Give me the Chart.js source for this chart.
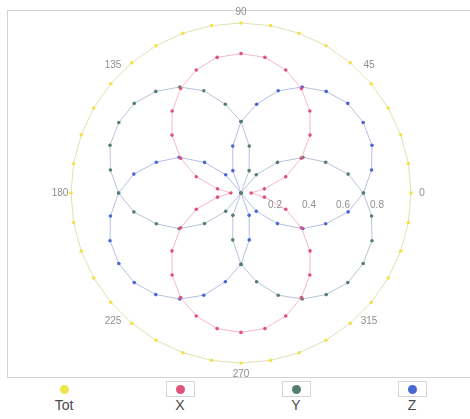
<!DOCTYPE html>
<html>
<head>
<meta charset="utf-8">
<title>Polar response</title>
<script src="https://cdn.jsdelivr.net/npm/chart.js@4.4.1/dist/chart.umd.min.js"></script>
<style>
  html, body { margin: 0; padding: 0; background: #fff; }
  body { width: 470px; height: 419px; position: relative; overflow: hidden; font-family: "Liberation Sans", Arial, sans-serif; }
  #polarChart { position: absolute; left: 0; top: 0; }
  #legend { position: absolute; left: 6px; top: 381px; width: 464px; display: flex; }
  .item { width: 116px; display: flex; flex-direction: column; align-items: center; }
  .box { width: 29px; height: 16px; border: 1px solid #d6d6d6; box-sizing: border-box; display: flex; align-items: center; justify-content: center; }
  .box.plain { border-color: transparent; }
  .dot { width: 9px; height: 9px; border-radius: 50%; }
  .name { font-size: 14px; line-height: 16px; color: #4a4a4a; }
</style>
</head>
<body>
<canvas id="polarChart" width="470" height="380"></canvas>
<div id="legend"></div>
<script>
// angle of each sample, degrees (counter-clockwise from the right)
const angles = [0, 10, 20, 30, 40, 50, 60, 70, 80, 90, 100, 110, 120, 130, 140, 150, 160, 170,
  180, 190, 200, 210, 220, 230, 240, 250, 260, 270, 280, 290, 300, 310, 320, 330, 340, 350];

const totValues = [1, 1, 1, 1, 1, 1, 1, 1, 1, 1, 1, 1, 1, 1, 1, 1, 1, 1,
  1, 1, 1, 1, 1, 1, 1, 1, 1, 1, 1, 1, 1, 1, 1, 1, 1, 1];
const xValues = [0.06, 0.14, 0.28, 0.41, 0.53, 0.63, 0.71, 0.77, 0.81, 0.82, 0.81, 0.77, 0.71, 0.63, 0.53, 0.41, 0.28, 0.14,
  0.06, 0.14, 0.28, 0.41, 0.53, 0.63, 0.71, 0.77, 0.81, 0.82, 0.81, 0.77, 0.71, 0.63, 0.53, 0.41, 0.28, 0.14];
const yValues = [0.72, 0.64, 0.53, 0.42, 0.28, 0.14, 0, 0.14, 0.28, 0.42, 0.53, 0.64, 0.72, 0.78, 0.82, 0.83, 0.82, 0.78,
  0.72, 0.64, 0.53, 0.42, 0.28, 0.14, 0, 0.14, 0.28, 0.42, 0.53, 0.64, 0.72, 0.78, 0.82, 0.83, 0.82, 0.78];
const zValues = [0.72, 0.78, 0.82, 0.83, 0.82, 0.78, 0.72, 0.64, 0.53, 0.42, 0.28, 0.14, 0, 0.14, 0.28, 0.42, 0.53, 0.64,
  0.72, 0.78, 0.82, 0.83, 0.82, 0.78, 0.72, 0.64, 0.53, 0.42, 0.28, 0.14, 0, 0.14, 0.28, 0.42, 0.53, 0.64];

const angleLabels = [0, 45, 90, 135, 180, 225, 270, 315];
const radialTicks = [0.2, 0.4, 0.6, 0.8];

const seriesNames = ['Tot', 'X', 'Y', 'Z'];
const markerColors = ['#eee44a', '#e0527a', '#557f6e', '#4a68d2'];
const lineColors = ['#e2dfb4', '#f4b8c8', '#b8c2dc', '#b6bfe2'];

// radar runs clockwise, so walk the samples backwards starting at 0 deg
const order = angles.map((_, i) => (angles.length - i) % angles.length);
const step = 360 / angles.length;

function reorder(values) {
  return order.map(k => values[k]);
}

const polarDecor = {
  id: 'polarDecor',
  beforeDraw(chart) {
    const ctx = chart.ctx;
    ctx.save();
    ctx.strokeStyle = '#d2d2d2';
    ctx.lineWidth = 1;
    ctx.strokeRect(7.5, 10.5, 470, 367);
    ctx.restore();
  },
  afterDraw(chart) {
    const scale = chart.scales.r;
    const ctx = chart.ctx;
    ctx.save();
    ctx.fillStyle = '#8e8e8e';
    ctx.font = '10px "Liberation Sans", Arial, sans-serif';
    ctx.textAlign = 'center';
    ctx.textBaseline = 'middle';

    angleLabels.forEach((deg) => {
      const pos = scale.getPointPosition((360 - deg) / step, scale.drawingArea + 11);
      ctx.fillText(String(deg), pos.x, pos.y);
    });

    radialTicks.forEach((v) => {
      const d = scale.getDistanceFromCenterForValue(v);
      ctx.fillText(v.toFixed(1), scale.xCenter + d, scale.yCenter + 12);
    });
    ctx.restore();
  }
};

const allValues = [totValues, xValues, yValues, zValues];

const chart = new Chart(document.getElementById('polarChart'), {
  type: 'radar',
  data: {
    labels: reorder(angles),
    datasets: allValues.map((values, i) => ({
      label: seriesNames[i],
      data: reorder(values),
      borderColor: lineColors[i],
      borderWidth: 1,
      backgroundColor: 'transparent',
      fill: false,
      pointRadius: 1.8,
      pointBorderWidth: 0,
      pointBackgroundColor: markerColors[i],
      pointBorderColor: markerColors[i]
    }))
  },
  options: {
    responsive: false,
    animation: false,
    layout: { padding: { left: 71, right: 59, top: 23, bottom: 17 } },
    plugins: {
      legend: { display: false },
      tooltip: { enabled: false }
    },
    scales: {
      r: {
        min: 0,
        max: 1,
        startAngle: 90,
        grid: { display: false },
        angleLines: { display: false },
        pointLabels: { display: false },
        ticks: { display: false }
      }
    }
  },
  plugins: [polarDecor]
});

// legend: marker box above the series name (Tot has no frame in the original)
const legend = document.getElementById('legend');
chart.data.datasets.forEach((ds, i) => {
  const item = document.createElement('div');
  item.className = 'item';
  item.innerHTML = '<div class="box' + (i === 0 ? ' plain' : '') + '"><div class="dot" style="background:' +
    ds.pointBackgroundColor + '"></div></div><div class="name">' + ds.label + '</div>';
  legend.appendChild(item);
});
</script>
</body>
</html>
